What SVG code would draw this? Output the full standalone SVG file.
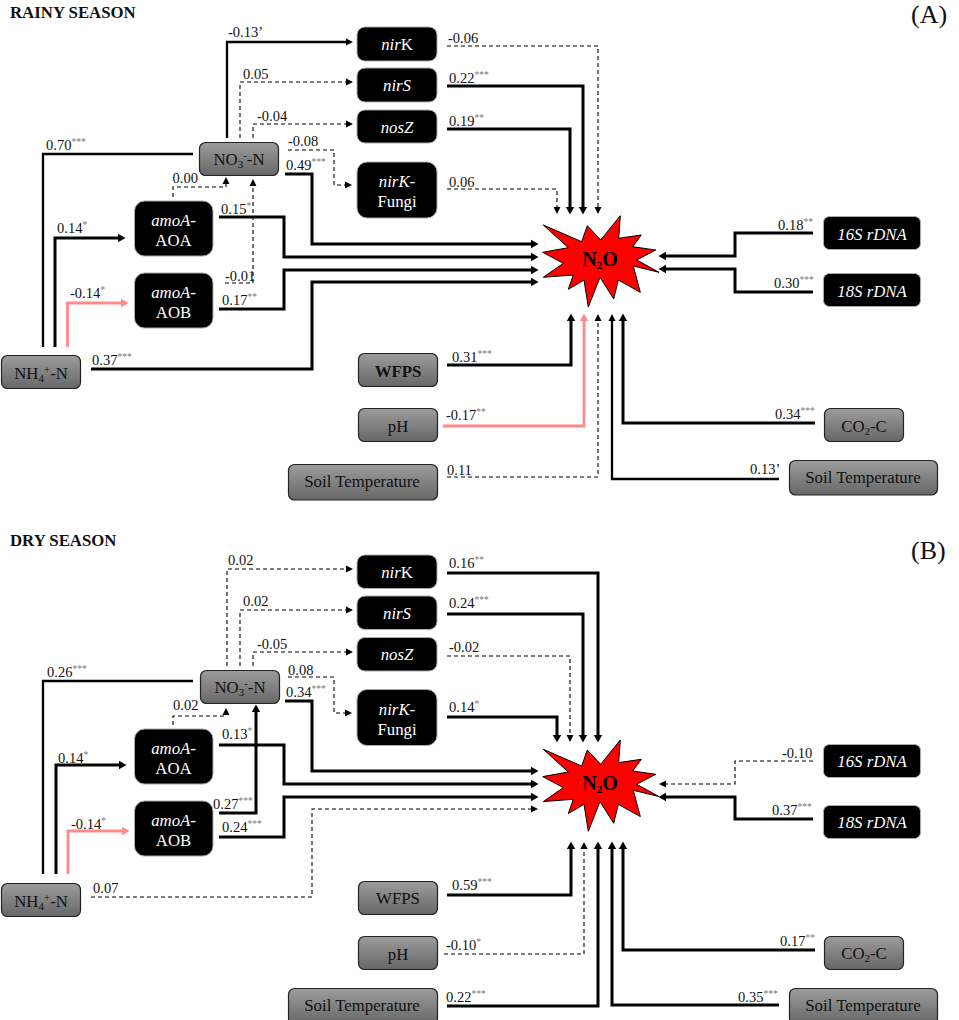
<svg xmlns="http://www.w3.org/2000/svg" width="959" height="1020" viewBox="0 0 959 1020">
<style>
text{font-family:"Liberation Serif","Times New Roman",serif;fill:#111}
.n{font-size:16.8px;text-anchor:middle}
.w{fill:#fff}
.i{font-style:italic}
.l{font-size:14.5px}
.h{font-size:16.8px;font-weight:bold;fill:#111}
.p{font-size:26px}
.st{font-size:9.5px;fill:#777}
.sb{font-size:11px}
.x{font-size:20px;font-weight:bold;text-anchor:middle;fill:#000}
.g{fill:url(#gr);stroke:#222;stroke-width:1.2}
.b{fill:#000;stroke:#aaa;stroke-width:1}
.c{fill:none;stroke:#000;stroke-width:2.3}
.t{stroke-width:3}
.f{stroke-width:1.5}
.d{stroke-width:1.1;stroke-dasharray:4 3;stroke:#000}
.r{stroke:#ff8a8a;stroke-width:2.8}
.a{marker-end:url(#ah)}
.t.a{marker-end:url(#at)}
.rm{marker-end:url(#ap)}
.star{fill:#f00;stroke:#000;stroke-width:1}
</style>
<defs>
<linearGradient id="gr" x1="0" y1="0" x2="0" y2="1"><stop offset="0" stop-color="#9c9c9c"/><stop offset="1" stop-color="#676767"/></linearGradient>
<marker id="ah" markerUnits="userSpaceOnUse" markerWidth="8" markerHeight="8" refX="0" refY="4" orient="auto"><path d="M0 0.500L7 4L0 7.500Z" fill="#000"/></marker>
<marker id="at" markerUnits="userSpaceOnUse" markerWidth="8" markerHeight="10" refX="0" refY="5" orient="auto"><path d="M0 0.800L7.500 5L0 9.200Z" fill="#000"/></marker>
<marker id="ap" markerUnits="userSpaceOnUse" markerWidth="8" markerHeight="10" refX="0" refY="5" orient="auto"><path d="M0 0.800L7.500 5L0 9.200Z" fill="#ff8a8a"/></marker>
<path id="sp" d="M543.3 225L581.7 241.7L587.3 225.7L600.7 240L620.3 215.7L618.7 238.3L641.3 235L632.7 246.7L655.7 250L636.7 260L659 272.3L633.3 266L640.3 292.3L618.3 280L613.7 299L600 277.3L588.3 307L584 280L568.3 289.3L573.3 275L543.3 277.3L563.3 263.3L542.7 252.3L568.3 247.7Z"/>
</defs>

<g id="connectors-a">
<path class="c a" d="M227 138V42H346"/>
<path class="c d a" d="M240 138V82H346"/>
<path class="c d a" d="M253 138V124H346"/>
<path class="c d a" d="M288 150H334V185H345"/>
<path class="c t a" d="M285 174H312V244H531"/>
<path class="c t a" d="M219 217H284V257H531"/>
<path class="c t a" d="M219 309H284V270H531"/>
<path class="c t a" d="M91 369H312V282H531"/>
<path class="c" d="M193 154H43V347"/>
<path class="c t a" d="M55 347V238H118"/>
<path class="c r rm" d="M67.500 347V303H121"/>
<path class="c d a" d="M173 197V187H226V184"/>
<path class="c d a" d="M225 283H253V186"/>
<path class="c d a" d="M447 46H598V207"/>
<path class="c t a" d="M447 86H583V207"/>
<path class="c t a" d="M447 129H570V207"/>
<path class="c d a" d="M447 189H557V207"/>
<path class="c t a" d="M813 233H735V256H666"/>
<path class="c t a" d="M813 292H735V269H666"/>
<path class="c t a" d="M447 365H571V321"/>
<path class="c r rm" d="M443 426H584V321"/>
<path class="c d a" d="M447 477H598V321"/>
<path class="c a" d="M779 479H612V321"/>
<path class="c t a" d="M815 423H623V321"/>
</g>
<g id="connectors-b">
<path class="c d a" d="M227 666V569H346"/>
<path class="c d a" d="M240 666V610H346"/>
<path class="c d a" d="M253 666V652H346"/>
<path class="c d a" d="M288 677H334V713H345"/>
<path class="c t a" d="M285 701H312V771H531"/>
<path class="c t a" d="M219 745H284V784H531"/>
<path class="c t a" d="M219 837H284V797H531"/>
<path class="c d a" d="M91 897H312V809H531"/>
<path class="c" d="M193 681H43V874"/>
<path class="c t a" d="M56 874V765H119"/>
<path class="c r rm" d="M68 874V831H122"/>
<path class="c d a" d="M173 725V716H226V715"/>
<path class="c t a" d="M219 813H256V712"/>
<path class="c t a" d="M447 573H598V735"/>
<path class="c t a" d="M447 614H583V735"/>
<path class="c d a" d="M447 656H570V735"/>
<path class="c t a" d="M447 717H557V735"/>
<path class="c d a" d="M813 761H735V784H666"/>
<path class="c t a" d="M813 819H735V797H666"/>
<path class="c t a" d="M447 895H571V849"/>
<path class="c d a" d="M444 954H584V849"/>
<path class="c t a" d="M447 1006H598V849"/>
<path class="c t a" d="M779 1005H612V849"/>
<path class="c t a" d="M815 950H623V849"/>
</g>

<g id="labels-a">
<text class="h" x="10" y="18">RAINY SEASON</text>
<text class="p" x="911" y="23">(A)</text>
<text class="l" x="228" y="37">-0.13’</text>
<text class="l" x="243" y="79">0.05</text>
<text class="l" x="257" y="121">-0.04</text>
<text class="l" x="46" y="150">0.70<tspan class="st" dy="-5">***</tspan></text>
<text class="l" x="288" y="146">-0.08</text>
<text class="l" x="286" y="170">0.49<tspan class="st" dy="-5">***</tspan></text>
<text class="l" x="172.500" y="183">0.00</text>
<text class="l" x="57" y="233">0.14<tspan class="st" dy="-5">*</tspan></text>
<text class="l" x="221" y="214">0.15<tspan class="st" dy="-5">*</tspan></text>
<text class="l" x="448" y="43">-0.06</text>
<text class="l" x="449" y="83">0.22<tspan class="st" dy="-5">***</tspan></text>
<text class="l" x="449" y="126">0.19<tspan class="st" dy="-5">**</tspan></text>
<text class="l" x="449" y="187">0.06</text>
<text class="l" x="225" y="281">-0.01</text>
<text class="l" x="222" y="305">0.17<tspan class="st" dy="-5">**</tspan></text>
<text class="l" x="70" y="298">-0.14<tspan class="st" dy="-5">*</tspan></text>
<text class="l" x="92" y="365">0.37<tspan class="st" dy="-5">***</tspan></text>
<text class="l" x="452" y="362">0.31<tspan class="st" dy="-5">***</tspan></text>
<text class="l" x="446" y="420">-0.17<tspan class="st" dy="-5">**</tspan></text>
<text class="l" x="447" y="475">0.11</text>
<text class="l" x="778" y="230">0.18<tspan class="st" dy="-5">**</tspan></text>
<text class="l" x="774" y="288">0.30<tspan class="st" dy="-5">***</tspan></text>
<text class="l" x="775" y="419">0.34<tspan class="st" dy="-5">***</tspan></text>
<text class="l" x="750" y="474">0.13’</text>
</g>
<g id="labels-b">
<text class="h" x="10" y="546">DRY SEASON</text>
<text class="p" x="911" y="559">(B)</text>
<text class="l" x="228" y="565">0.02</text>
<text class="l" x="243" y="606">0.02</text>
<text class="l" x="257" y="649">-0.05</text>
<text class="l" x="47" y="677">0.26<tspan class="st" dy="-5">***</tspan></text>
<text class="l" x="288" y="675">0.08</text>
<text class="l" x="286" y="697">0.34<tspan class="st" dy="-5">***</tspan></text>
<text class="l" x="173" y="710">0.02</text>
<text class="l" x="222" y="739">0.13<tspan class="st" dy="-5">*</tspan></text>
<text class="l" x="58" y="763">0.14<tspan class="st" dy="-5">*</tspan></text>
<text class="l" x="213" y="809">0.27<tspan class="st" dy="-5">***</tspan></text>
<text class="l" x="222" y="832">0.24<tspan class="st" dy="-5">***</tspan></text>
<text class="l" x="71" y="829">-0.14<tspan class="st" dy="-5">*</tspan></text>
<text class="l" x="93" y="893">0.07</text>
<text class="l" x="452" y="890">0.59<tspan class="st" dy="-5">***</tspan></text>
<text class="l" x="446" y="950">-0.10<tspan class="st" dy="-5">*</tspan></text>
<text class="l" x="446" y="1002">0.22<tspan class="st" dy="-5">***</tspan></text>
<text class="l" x="449" y="568">0.16<tspan class="st" dy="-5">**</tspan></text>
<text class="l" x="449" y="608">0.24<tspan class="st" dy="-5">***</tspan></text>
<text class="l" x="449" y="652">-0.02</text>
<text class="l" x="449" y="712">0.14<tspan class="st" dy="-5">*</tspan></text>
<text class="l" x="782" y="758">-0.10</text>
<text class="l" x="772" y="815">0.37<tspan class="st" dy="-5">***</tspan></text>
<text class="l" x="780" y="946">0.17<tspan class="st" dy="-5">**</tspan></text>
<text class="l" x="738" y="1002">0.35<tspan class="st" dy="-5">***</tspan></text>
</g>

<g id="a-nirK"><rect class="b" x="357" y="27" width="80" height="34" rx="8"/><text class="n w" x="397" y="50"><tspan class="i w">nir</tspan>K</text></g>
<g id="a-nirS"><rect class="b" x="357" y="68" width="80" height="34" rx="8"/><text class="n w i" x="397" y="91">nirS</text></g>
<g id="a-nosZ"><rect class="b" x="357" y="110" width="80" height="33" rx="8"/><text class="n w i" x="397" y="133">nosZ</text></g>
<g id="a-nirK-Fungi"><rect class="b" x="357" y="162" width="80" height="56" rx="10"/><text class="n w" x="397" y="187"><tspan class="i w">nirK</tspan>-</text><text class="n w" x="397" y="207">Fungi</text></g>
<g id="a-NO3"><rect class="g" x="199.500" y="142.500" width="79" height="33" rx="6"/><text class="n" x="239" y="165">NO<tspan class="sb" dy="3">3</tspan><tspan class="sb" dy="-9">-</tspan><tspan dy="6">-N</tspan></text></g>
<g id="a-AOA"><rect class="b" x="134.500" y="201" width="78.500" height="55" rx="10"/><text class="n w" x="173.500" y="226"><tspan class="i w">amoA</tspan>-</text><text class="n w" x="173.500" y="246">AOA</text></g>
<g id="a-AOB"><rect class="b" x="134.500" y="273" width="78.500" height="55" rx="10"/><text class="n w" x="173.500" y="298"><tspan class="i w">amoA</tspan>-</text><text class="n w" x="173.500" y="318">AOB</text></g>
<g id="a-NH4"><rect class="g" x="1.500" y="355.500" width="79" height="33" rx="6"/><text class="n" x="41" y="379">NH<tspan class="sb" dy="3">4</tspan><tspan class="sb" dy="-9">+</tspan><tspan dy="6">-N</tspan></text></g>
<g id="a-WFPS"><rect class="g" x="358.500" y="353.500" width="79" height="33" rx="6"/><text class="n" x="398" y="377" font-weight="bold">WFPS</text></g>
<g id="a-pH"><rect class="g" x="358.500" y="408.500" width="79" height="33" rx="6"/><text class="n" x="398" y="432">pH</text></g>
<g id="a-soil-left"><rect class="g" x="288.500" y="464.500" width="149" height="35.500" rx="6"/><text class="n" x="362" y="487">Soil Temperature</text></g>
<g id="a-16S"><rect class="b" x="823.500" y="216.500" width="97" height="33" rx="6"/><text class="n w i" x="872" y="240">16S rDNA</text></g>
<g id="a-18S"><rect class="b" x="823.500" y="273.500" width="97" height="33" rx="6"/><text class="n w i" x="872" y="297">18S rDNA</text></g>
<g id="a-CO2"><rect class="g" x="824.500" y="408.500" width="79" height="33" rx="6"/><text class="n" x="864" y="432">CO<tspan class="sb" dy="3">2</tspan><tspan dy="-3">-C</tspan></text></g>
<g id="a-soil-right"><rect class="g" x="789.500" y="460.500" width="148" height="34.500" rx="6"/><text class="n" x="863" y="483">Soil Temperature</text></g>
<g id="a-N2O"><use href="#sp" class="star"/><text class="x" x="600" y="266">N<tspan class="sb" dy="3" font-size="13">2</tspan><tspan dy="-3">O</tspan></text></g>

<g id="b-nirK"><rect class="b" x="357" y="555" width="80" height="33.500" rx="8"/><text class="n w" x="397" y="578"><tspan class="i w">nir</tspan>K</text></g>
<g id="b-nirS"><rect class="b" x="357" y="596" width="80" height="33.500" rx="8"/><text class="n w i" x="397" y="619">nirS</text></g>
<g id="b-nosZ"><rect class="b" x="357" y="637.500" width="80" height="33.500" rx="8"/><text class="n w i" x="397" y="660">nosZ</text></g>
<g id="b-nirK-Fungi"><rect class="b" x="357" y="689.500" width="80" height="56" rx="10"/><text class="n w" x="397" y="715"><tspan class="i w">nirK</tspan>-</text><text class="n w" x="397" y="735">Fungi</text></g>
<g id="b-NO3"><rect class="g" x="200.500" y="670.500" width="79" height="33" rx="6"/><text class="n" x="240" y="693">NO<tspan class="sb" dy="3">3</tspan><tspan class="sb" dy="-9">-</tspan><tspan dy="6">-N</tspan></text></g>
<g id="b-AOA"><rect class="b" x="134.500" y="729" width="78.500" height="55" rx="10"/><text class="n w" x="173.500" y="754"><tspan class="i w">amoA</tspan>-</text><text class="n w" x="173.500" y="774">AOA</text></g>
<g id="b-AOB"><rect class="b" x="134.500" y="801" width="78.500" height="55" rx="10"/><text class="n w" x="173.500" y="826"><tspan class="i w">amoA</tspan>-</text><text class="n w" x="173.500" y="846">AOB</text></g>
<g id="b-NH4"><rect class="g" x="1.500" y="883.500" width="79" height="33" rx="6"/><text class="n" x="41" y="907">NH<tspan class="sb" dy="3">4</tspan><tspan class="sb" dy="-9">+</tspan><tspan dy="6">-N</tspan></text></g>
<g id="b-WFPS"><rect class="g" x="358.500" y="881.500" width="79" height="33" rx="6"/><text class="n" x="398" y="904">WFPS</text></g>
<g id="b-pH"><rect class="g" x="358.500" y="936.500" width="79" height="33" rx="6"/><text class="n" x="398" y="960">pH</text></g>
<g id="b-soil-left"><rect class="g" x="288.500" y="988.500" width="149" height="36" rx="6"/><text class="n" x="362" y="1011">Soil Temperature</text></g>
<g id="b-16S"><rect class="b" x="823.500" y="744.500" width="97" height="33" rx="6"/><text class="n w i" x="872" y="767">16S rDNA</text></g>
<g id="b-18S"><rect class="b" x="823.500" y="805.500" width="97" height="33" rx="6"/><text class="n w i" x="872" y="828">18S rDNA</text></g>
<g id="b-CO2"><rect class="g" x="824.500" y="936.500" width="79" height="33" rx="6"/><text class="n" x="864" y="959">CO<tspan class="sb" dy="3">2</tspan><tspan dy="-3">-C</tspan></text></g>
<g id="b-soil-right"><rect class="g" x="789.500" y="988.500" width="148" height="36" rx="6"/><text class="n" x="863" y="1011">Soil Temperature</text></g>
<g id="b-N2O"><use href="#sp" class="star" y="524.300"/><text class="x" x="600" y="790">N<tspan class="sb" dy="3" font-size="13">2</tspan><tspan dy="-3">O</tspan></text></g>
</svg>
